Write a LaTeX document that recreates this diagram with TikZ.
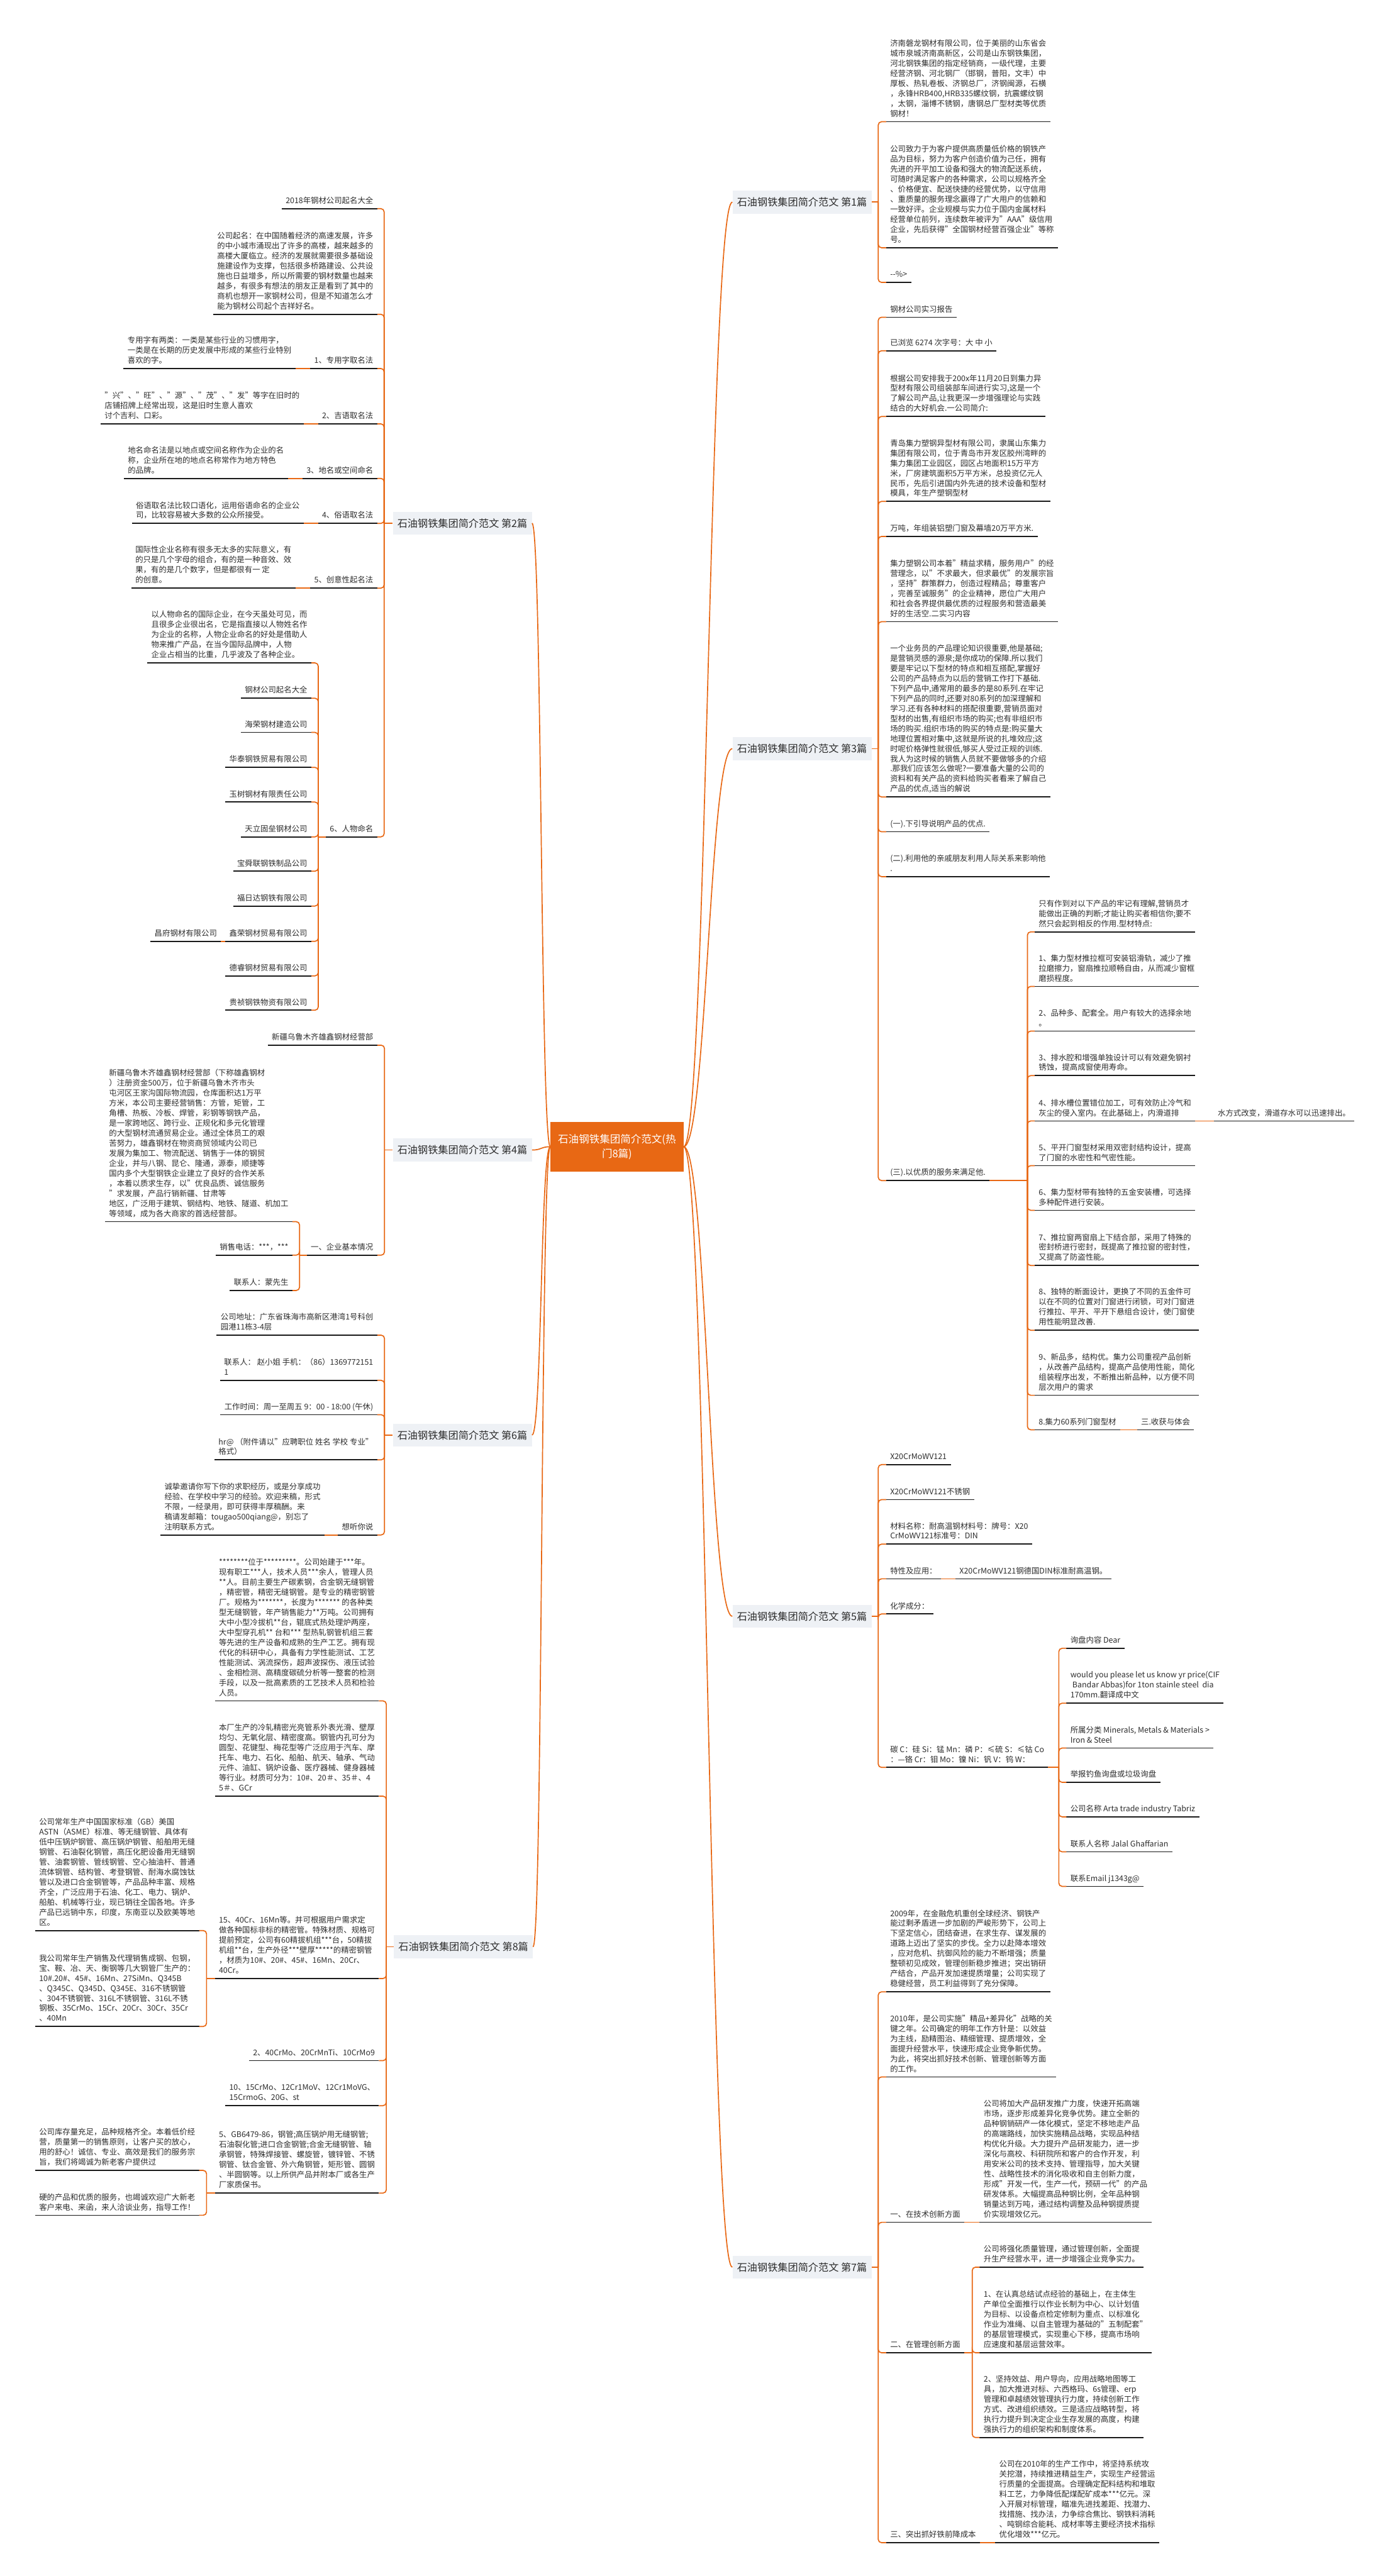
\documentclass[tikz,border=0pt]{standalone}
\usepackage{fontspec}
\setmainfont{Noto Sans CJK SC}
\usetikzlibrary{calc}
\definecolor{org}{RGB}{232,104,20}
\definecolor{brfill}{RGB}{238,241,245}
\definecolor{txc}{RGB}{45,45,45}
\definecolor{ulc}{RGB}{25,25,25}
\newcommand\ftx{\fontsize{13.5pt}{17.4pt}\selectfont}
\newcommand\fbr{\fontsize{17.6pt}{21pt}\selectfont}
\newcommand\fct{\fontsize{18pt}{25pt}\selectfont}
\tikzset{
 tx/.style={font=\ftx, text=txc, align=left, inner xsep=2.4mm, inner ysep=0pt, text depth=3.1mm},
 tr/.style={tx, anchor=south west},
 tl/.style={tx, anchor=south east},
 brbox/.style={fill=brfill, text=txc, font=\fbr, inner xsep=2.8mm, inner ysep=0pt, minimum height=14mm},
 brr/.style={brbox, anchor=east},
 brl/.style={brbox, anchor=west},
 ctrbox/.style={fill=org, text=white, font=\fct, align=center, minimum width=81mm, minimum height=30mm, inner sep=0pt},
 cn/.style={draw=org, line width=0.65mm},
 cnr/.style={cn, rounded corners=2mm},
 ul/.style={draw=ulc, line width=0.65mm},
}
\begin{document}
\begin{tikzpicture}[x=1mm,y=-1mm]
\useasboundingbox[fill=white] (0,0) rectangle (850,1568);

% ---------------- centre and branches
\node[ctrbox] (ctr) at (375.5,698) {石油钢铁集团简介范文(热\\门8篇)};
\node[brr] (B1) at (530.5,123) {石油钢铁集团简介范文 第1篇};
\node[brr] (B3) at (530.5,455.7) {石油钢铁集团简介范文 第3篇};
\node[brr] (B5) at (530.5,983.8) {石油钢铁集团简介范文 第5篇};
\node[brr] (B7) at (530.5,1380) {石油钢铁集团简介范文 第7篇};
\node[brl] (B2) at (239,318.5) {石油钢铁集团简介范文 第2篇};
\node[brl] (B4) at (239,700) {石油钢铁集团简介范文 第4篇};
\node[brl] (B6) at (239,873.5) {石油钢铁集团简介范文 第6篇};
\node[brl] (B8) at (239.6,1185) {石油钢铁集团简介范文 第8篇};

% ---------------- branch 1
\node[tr] (c1a) at (539.3,74.1) {济南磐龙钢材有限公司，位于美丽的山东省会\\城市泉城济南高新区，公司是山东钢铁集团，\\河北钢铁集团的指定经销商，一级代理，主要\\经营济钢、河北钢厂（邯钢，普阳，文丰）中\\厚板、热轧卷板、济钢总厂，济钢闽源，石横\\，永锋HRB400,HRB335螺纹钢，抗震螺纹钢\\，太钢，淄博不锈钢，唐钢总厂型材类等优质\\钢材！};
\node[tr] (c1b) at (539.3,150.8) {公司致力于为客户提供高质量低价格的钢铁产\\品为目标，努力为客户创造价值为己任，拥有\\先进的开平加工设备和强大的物流配送系统，\\可随时满足客户的各种需求，公司以规格齐全\\、价格便宜、配送快捷的经营优势，以守信用\\、重质量的服务理念赢得了广大用户的信赖和\\一致好评。企业规模与实力位于国内金属材料\\经营单位前列，连续数年被评为"AAA"级信用\\企业，先后获得"全国钢材经营百强企业"等称\\号。};
\node[tr] (c1c) at (539.3,171.9) {-{}-\%>};

% ---------------- branch 3
\node[tr] (c3a) at (539.3,193.1) {钢材公司实习报告};
\node[tr] (c3b) at (539.3,213.5) {已浏览 6274 次字号：大 中 小};
\node[tr] (c3c) at (539.3,253.5) {根据公司安排我于200x年11月20日到集力异\\型材有限公司组装部车间进行实习,这是一个\\了解公司产品,让我更深一步增强理论与实践\\结合的大好机会.一公司简介:};
\node[tr] (c3d) at (539.3,305.2) {青岛集力塑钢异型材有限公司，隶属山东集力\\集团有限公司，位于青岛市开发区胶州湾畔的\\集力集团工业园区，园区占地面积15万平方\\米，厂房建筑面积5万平方米，总投资亿元人\\民币，先后引进国内外先进的技术设备和型材\\模具，年生产塑钢型材};
\node[tr] (c3e) at (539.3,326.5) {万吨，年组装铝塑门窗及幕墙20万平方米.};
\node[tr] (c3f) at (539.3,378.4) {集力塑钢公司本着"精益求精，服务用户"的经\\营理念，以"不求最大，但求最优"的发展宗旨\\，坚持"群策群力，创造过程精品；尊重客户\\，完善至诚服务"的企业精神，愿位广大用户\\和社会各界提供最优质的过程服务和营造最美\\好的生活空.二实习内容};
\node[tr] (c3g) at (539.3,485.1) {一个业务员的产品理论知识很重要,他是基础;\\是营销灵感的源泉;是你成功的保障.所以我们\\要是牢记以下型材的特点和相互搭配,掌握好\\公司的产品特点为以后的营销工作打下基础.\\下列产品中,通常用的最多的是80系列.在牢记\\下列产品的同时,还要对80系列的加深理解和\\学习.还有各种材料的搭配很重要,营销员面对\\型材的出售,有组织市场的购买;也有非组织市\\场的购买.组织市场的购买的特点是:购买量大\\地理位置相对集中,这就是所说的扎堆效应;这\\时呢价格弹性就很低,够买人受过正规的训练.\\我人为这时候的销售人员就不要做够多的介绍\\.那我们应该怎么做呢?一要准备大量的公司的\\资料和有关产品的资料给购买者看来了解自己\\产品的优点,适当的解说};
\node[tr] (c3h) at (539.3,506.3) {(一).下引导说明产品的优点.};
\node[tr] (c3i) at (539.3,533.6) {(二).利用他的亲戚朋友利用人际关系来影响他\\.};
\node[tr] (c3j) at (539.3,718.6) {(三).以优质的服务来满足他.};
\node[tr] (s0) at (629.7,567.2) {只有作到对以下产品的牢记有理解,营销员才\\能做出正确的判断;才能让购买者相信你;要不\\然只会起到相反的作用.型材特点:};
\node[tr] (s1) at (629.7,600.4) {1、集力型材推拉框可安装铝滑轨，减少了推\\拉磨擦力，窗扇推拉顺畅自由，从而减少窗框\\磨损程度。};
\node[tr] (s2) at (629.7,627.6) {2、品种多、配套全。用户有较大的选择余地\\。};
\node[tr] (s3) at (629.7,654.7) {3、排水腔和增强单独设计可以有效避免钢衬\\锈蚀，提高成窗使用寿命。};
\node[tr] (s4) at (629.7,682.3) {4、排水槽位置错位加工，可有效防止冷气和\\灰尘的侵入室内。在此基础上，内滑道排};
\node[tr] (s4c) at (738.7,682.3) {水方式改变，滑道存水可以迅速排出。};
\node[tr] (s5) at (629.7,709.5) {5、平开门窗型材采用双密封结构设计，提高\\了门窗的水密性和气密性能。};
\node[tr] (s6) at (629.7,736.7) {6、集力型材带有独特的五金安装槽，可选择\\多种配件进行安装。};
\node[tr] (s7) at (629.7,770.3) {7、推拉窗两窗扇上下结合部，采用了特殊的\\密封桥进行密封，既提高了推拉窗的密封性，\\又提高了防盗性能。};
\node[tr] (s8) at (629.7,809.7) {8、独特的断面设计，更换了不同的五金件可\\以在不同的位置对门窗进行闭锁，可对门窗进\\行推拉、平开、平开下悬组合设计，使门窗使\\用性能明显改善.};
\node[tr] (s9) at (629.7,849.3) {9、新品多，结构优。集力公司重视产品创新\\，从改善产品结构，提高产品使用性能，简化\\组装程序出发，不断推出新品种，以方便不同\\层次用户的需求};
\node[tr] (s10) at (629.7,870.3) {8.集力60系列门窗型材};
\node[tr] (s10c) at (692,870.3) {三.收获与体会};

% ---------------- branch 5
\node[tr] (c5a) at (539.3,891.5) {X20CrMoWV121};
\node[tr] (c5b) at (539.3,912.8) {X20CrMoWV121不锈钢};
\node[tr] (c5c) at (539.3,939.9) {材料名称：耐高温钢材料号：牌号：X20\\CrMoWV121标准号：DIN};
\node[tr] (c5d) at (539.3,961.0) {特性及应用：};
\node[tr] (c5d1) at (581.5,961.0) {X20CrMoWV121钢德国DIN标准耐高温钢。};
\node[tr] (c5e) at (539.3,982.4) {化学成分：};
\node[tr] (c5f) at (539.3,1075.8) {碳 C：硅 Si：锰 Mn：磷 P：≤硫 S：≤钴 Co\\：—铬 Cr：钼 Mo：镍 Ni：钒 V：钨 W：};
\node[tr] (f1) at (649,1003.3) {询盘内容 Dear};
\node[tr] (f2) at (649,1036.7) {would you please let us know yr price(CIF\\\hspace{0.25em}Bandar Abbas)for 1ton stainle steel\ \ dia\\170mm.翻译成中文};
\node[tr] (f3) at (649,1064.0) {所属分类 Minerals, Metals \& Materials >\\Iron \& Steel};
\node[tr] (f4) at (649,1084.9) {举报钓鱼询盘或垃圾询盘};
\node[tr] (f5) at (649,1105.9) {公司名称 Arta trade industry Tabriz};
\node[tr] (f6) at (649,1127.2) {联系人名称 Jalal Ghaffarian};
\node[tr] (f7) at (649,1148.2) {联系Email j1343g@};

% ---------------- branch 7
\node[tr] (c7a) at (539.3,1212.4) {2009年，在金融危机重创全球经济、钢铁产\\能过剩矛盾进一步加剧的严峻形势下，公司上\\下坚定信心，团结奋进，在求生存、谋发展的\\道路上迈出了坚实的步伐。全力以赴降本增效\\，应对危机、抗御风险的能力不断增强；质量\\整顿初见成效，管理创新稳步推进；突出销研\\产结合，产品开发加速提质增量；公司实现了\\稳健经营，员工利益得到了充分保障。};
\node[tr] (c7b) at (539.3,1264.2) {2010年，是公司实施"精品+差异化"战略的关\\键之年。公司确定的明年工作方针是：以效益\\为主线，励精图治、精细管理、提质增效，全\\面提升经营水平，快速形成企业竞争新优势。\\为此，将突出抓好技术创新、管理创新等方面\\的工作。};
\node[tr] (c7c) at (539.3,1352.7) {一、在技术创新方面};
\node[tr] (c7c1) at (596.2,1352.7) {公司将加大产品研发推广力度，快速开拓高端\\市场，逐步形成差异化竞争优势。建立全新的\\品种钢销研产一体化模式，坚定不移地走产品\\的高端路线，加快实施精品战略，实现品种结\\构优化升级。大力提升产品研发能力，进一步\\深化与高校、科研院所和客户的合作开发，利\\用安米公司的技术支持、管理指导，加大关键\\性、战略性技术的消化吸收和自主创新力度，\\形成"开发一代，生产一代，预研一代"的产品\\研发体系。大幅提高品种钢比例，全年品种钢\\销量达到万吨，通过结构调整及品种钢提质提\\价实现增效亿元。};
\node[tr] (c7d) at (539.3,1432.1) {二、在管理创新方面};
\node[tr] (d0) at (596.2,1380.0) {公司将强化质量管理，通过管理创新，全面提\\升生产经营水平，进一步增强企业竞争实力。};
\node[tr] (d1) at (596.2,1432.1) {1、在认真总结试点经验的基础上，在主体生\\产单位全面推行以作业长制为中心、以计划值\\为目标、以设备点检定修制为重点、以标准化\\作业为准绳、以自主管理为基础的"五制配套"\\的基层管理模式，实现重心下移，提高市场响\\应速度和基层运营效率。};
\node[tr] (d2) at (596.2,1483.7) {2、坚持效益、用户导向，应用战略地图等工\\具，加大推进对标、六西格玛、6s管理、erp\\管理和卓越绩效管理执行力度，持续创新工作\\方式、改进组织绩效。三是适应战略转型，将\\执行力提升到决定企业生存发展的高度，构建\\强执行力的组织架构和制度体系。};
\node[tr] (c7e) at (539.3,1547.7) {三、突出抓好铁前降成本};
\node[tr] (c7e1) at (605.7,1547.7) {公司在2010年的生产工作中，将坚持系统攻\\关挖潜，持续推进精益生产，实现生产经营运\\行质量的全面提高。合理确定配料结构和堆取\\料工艺，力争降低配煤配矿成本***亿元。深\\入开展对标管理，瞄准先进找差距、找潜力、\\找措施、找办法，力争综合焦比、钢铁料消耗\\、吨钢综合能耗、成材率等主要经济技术指标\\优化增效***亿元。};

% ---------------- branch 2
\node[tl] (c2a) at (229.6,127.0) {2018年钢材公司起名大全};
\node[tl] (c2b) at (229.6,191.3) {公司起名：在中国随着经济的高速发展，许多\\的中小城市涌现出了许多的高楼，越来越多的\\高楼大厦临立。经济的发展就需要很多基础设\\施建设作为支撑，包括很多桥路建设、公共设\\施也日益增多，所以所需要的钢材数量也越来\\越多，有很多有想法的朋友正是看到了其中的\\商机也想开一家钢材公司，但是不知道怎么才\\能为钢材公司起个吉祥好名。};
\node[tl] (c2c) at (229.6,224.3) {1、专用字取名法};
\node[tl] (c2c1) at (179.8,224.3) {专用字有两类：一类是某些行业的习惯用字，\\一类是在长期的历史发展中形成的某些行业特别\\喜欢的字。};
\node[tl] (c2d) at (229.6,258.0) {2、吉语取名法};
\node[tl] (c2d1) at (184.8,258.0) {"兴"、"旺"、"源"、"茂"、"发"等字在旧时的\\店铺招牌上经常出现，这是旧时生意人喜欢\\讨个吉利、口彩。};
\node[tl] (c2e) at (229.6,291.2) {3、地名或空间命名};
\node[tl] (c2e1) at (175.2,291.2) {地名命名法是以地点或空间名称作为企业的名\\称，企业所在地的地点名称常作为地方特色\\的品牌。};
\node[tl] (c2f) at (229.6,318.6) {4、俗语取名法};
\node[tl] (c2f1) at (184.8,318.6) {俗语取名法比较口语化，运用俗语命名的企业公\\司，比较容易被大多数的公众所接受。};
\node[tl] (c2g) at (229.6,358.0) {5、创意性起名法};
\node[tl] (c2g1) at (179.8,358.0) {国际性企业名称有很多无太多的实际意义，有\\的只是几个字母的组合，有的是一种音效、效\\果，有的是几个数字，但是都很有一 定\\的创意。};
\node[tl] (c2h) at (229.6,509.4) {6、人物命名};
\node[tl] (h1) at (189.5,403.5) {以人物命名的国际企业，在今天虽处可见，而\\且很多企业很出名，它是指直接以人物姓名作\\为企业的名称，人物企业命名的好处是借助人\\物来推广产品，在当今国际品牌中，人物\\企业占相当的比重，几乎波及了各种企业。};
\node[tl] (h2) at (189.5,425.0) {钢材公司起名大全};
\node[tl] (h3) at (189.5,445.8) {海荣钢材建造公司};
\node[tl] (h4) at (189.5,467.1) {华泰钢铁贸易有限公司};
\node[tl] (h5) at (189.5,488.2) {玉树钢材有限责任公司};
\node[tl] (h6) at (189.5,509.4) {天立固垒钢材公司};
\node[tl] (h7) at (189.5,530.3) {宝舜联钢铁制品公司};
\node[tl] (h8) at (189.5,551.5) {福日达钢铁有限公司};
\node[tl] (h9) at (189.5,573.0) {鑫荣钢材贸易有限公司};
\node[tl] (h9c) at (134.5,573.0) {昌府钢材有限公司};
\node[tl] (h10) at (189.5,594.0) {德睿钢材贸易有限公司};
\node[tl] (h11) at (189.5,614.9) {贵祯钢铁物资有限公司};

% ---------------- branch 4
\node[tl] (c4a) at (229.6,636.2) {新疆乌鲁木齐雄鑫钢材经营部};
\node[tl] (c4b) at (229.6,764.0) {一、企业基本情况};
\node[tl] (k1) at (178,743.6) {新疆乌鲁木齐雄鑫钢材经营部（下称雄鑫钢材\\）注册资金500万，位于新疆乌鲁木齐市头\\屯河区王家沟国际物流园，仓库面积达1万平\\方米，本公司主要经营销售：方管，矩管，工\\角槽、热板、冷板、焊管，彩钢等钢铁产品，\\是一家跨地区、跨行业、正规化和多元化管理\\的大型钢材流通贸易企业。通过全体员工的艰\\苦努力，雄鑫钢材在物资商贸领域内公司已\\发展为集加工、物流配送、销售于一体的钢贸\\企业，并与八钢、昆仑、隆通，源泰，顺捷等\\国内多个大型钢铁企业建立了良好的合作关系\\，本着以质求生存，以"优良品质、诚信服务\\"求发展，产品行销新疆、甘肃等\\地区，广泛用于建筑、钢结构、地铁、隧道、机加工\\等领域，成为各大商家的首选经营部。};
\node[tl] (k2) at (178,764.0) {销售电话：***，***};
\node[tl] (k3) at (178,785.5) {联系人：蒙先生};

% ---------------- branch 6
\node[tl] (c6a) at (229.6,812.7) {公司地址：广东省珠海市高新区港湾1号科创\\园港11栋3-4层};
\node[tl] (c6b) at (229.6,840.2) {联系人： 赵小姐 手机：（86）1369772151\\1};
\node[tl] (c6c) at (229.6,861.1) {工作时间：周一至周五 9：00 - 18:00 (午休)};
\node[tl] (c6d) at (229.6,888.6) {hr@ （附件请以"应聘职位 姓名 学校 专业"\\格式）};
\node[tl] (c6e) at (229.6,934.3) {想听你说};
\node[tl] (c6e1) at (197.5,934.3) {诚挚邀请你写下你的求职经历，或是分享成功\\经验、在学校中学习的经验。欢迎来稿，形式\\不限，一经录用，即可获得丰厚稿酬。来\\稿请发邮箱：tougao500qiang@，别忘了\\注明联系方式。};

% ---------------- branch 8
\node[tl] (c8a) at (230.6,1035.3) {********位于*********。公司始建于***年。\\现有职工***人，技术人员***余人，管理人员\\{}**人。目前主要生产碳素钢，合金钢无缝钢管\\，精密管，精密无缝钢管。是专业的精密钢管\\厂。规格为*******，长度为******* 的各种类\\型无缝钢管，年产销售能力**万吨。公司拥有\\大中小型冷拔机**台，辊底式热处理炉两座，\\大中型穿孔机** 台和*** 型热轧钢管机组三套\\等先进的生产设备和成熟的生产工艺。拥有现\\代化的科研中心，具备有力学性能测试、工艺\\性能测试、涡流探伤，超声波探伤、液压试验\\、金相检测、高精度碳硫分析等一整套的检测\\手段，以及一批高素质的工艺技术人员和检验\\人员。};
\node[tl] (c8b) at (230.6,1093.3) {本厂生产的冷轧精密光亮管系外表光滑、壁厚\\均匀、无氧化层、精密度高。钢管内孔可分为\\圆型、花键型、梅花型等广泛应用于汽车、摩\\托车、电力、石化、船舶、航天、轴承、气动\\元件、油缸、锅炉设备、医疗器械、健身器械\\等行业。材质可分为：10\#、20＃、35＃、4\\5＃、GCr};
\node[tl] (c8c) at (230.6,1204.3) {15、40Cr、16Mn等。并可根据用户需求定\\做各种国标非标的精密管。特殊材质、规格可\\提前预定，公司有60精拔机组***台，50精拔\\机组**台，生产外径***壁厚*****的精密钢管\\，材质为10\#、20\#、45\#、16Mn、20Cr、\\40Cr。};
\node[tl] (e1) at (121.2,1175.1) {公司常年生产中国国家标准（GB）美国\\ASTN（ASME）标准、等无缝钢管、具体有\\低中压锅炉钢管、高压锅炉钢管、船舶用无缝\\钢管、石油裂化钢管，高压化肥设备用无缝钢\\管、油套钢管、管线钢管、空心抽油杆、普通\\流体钢管、结构管、考登钢管、耐海水腐蚀钛\\管以及进口合金钢管等，产品品种丰富、规格\\齐全，广泛应用于石油、化工、电力、锅炉、\\船舶、机械等行业，现已销往全国各地。许多\\产品已远销中东，印度，东南亚以及欧美等地\\区。};
\node[tl] (e2) at (121.2,1233.5) {我公司常年生产销售及代理销售成钢、包钢，\\宝、鞍、冶、天、衡钢等几大钢管厂生产的：\\10\#.20\#、45\#、16Mn、27SiMn、Q345B\\、Q345C、Q345D、Q345E、316不锈钢管\\、304不锈钢管、316L不锈钢管、316L不锈\\钢板、35CrMo、15Cr、20Cr、30Cr、35Cr\\、40Mn};
\node[tl] (c8d) at (230.6,1254.3) {2、40CrMo、20CrMnTi、10CrMo9};
\node[tl] (c8e) at (230.6,1281.7) {10、15CrMo、12Cr1MoV、12Cr1MoVG、\\15CrmoG、20G、st};
\node[tl] (c8f) at (230.6,1334.9) {5、GB6479-86，钢管;高压锅炉用无缝钢管;\\石油裂化管;进口合金钢管;合金无缝钢管、轴\\承钢管，特殊焊接管、螺旋管，镀锌管、不锈\\钢管、钛合金管、外六角钢管，矩形管、圆钢\\、半圆钢等。以上所供产品并附本厂或各生产\\厂家质保书。};
\node[tl] (g1) at (121.2,1321.1) {公司库存量充足，品种规格齐全。本着低价经\\营，质量第一的销售原则，让客户买的放心，\\用的舒心！诚信、专业、高效是我们的服务宗\\旨，我们将竭诚为新老客户提供过};
\node[tl] (g2) at (121.2,1348.4) {硬的产品和优质的服务，也竭诚欢迎广大新老\\客户来电、来函，来人洽谈业务，指导工作！};

% ---------------- underlines
\foreach \n in {c1a,c1b,c1c,c3a,c3b,c3c,c3d,c3e,c3f,c3g,c3h,c3i,c3j,s0,s1,s2,s3,s4,s4c,s5,s6,s7,s8,s9,s10,s10c,
  c5a,c5b,c5c,c5d,c5d1,c5e,c5f,f1,f2,f3,f4,f5,f6,f7,c7a,c7b,c7c,c7c1,c7d,d0,d1,d2,c7e,c7e1,
  c2a,c2b,c2c,c2c1,c2d,c2d1,c2e,c2e1,c2f,c2f1,c2g,c2g1,c2h,h1,h2,h3,h4,h5,h6,h7,h8,h9,h9c,h10,h11,
  c4a,c4b,k1,k2,k3,c6a,c6b,c6c,c6d,c6e,c6e1,c8a,c8b,c8c,e1,e2,c8d,c8e,c8f,g1,g2}
  \draw[ul] (\n.south west) -- (\n.south east);

% ---------------- connectors: centre to branches
\foreach \b in {B1,B3,B5,B7}
  \draw[cn] (ctr.east) .. controls +(14,0) and +(-14,0) .. (\b.west);
\foreach \b in {B2,B4,B6,B8}
  \draw[cn] (ctr.west) .. controls +(-6,0) and +(6,0) .. (\b.east);

% right side groups
\coordinate (v1) at ($(c1a.south west |- B1.east)+(-4.8,0)$);
\draw[cn] (B1.east) -- (v1);
\foreach \c in {c1a,c1b,c1c} \draw[cnr] (v1) |- (\c.south west);

\coordinate (v3) at ($(c3a.south west |- B3.east)+(-4.8,0)$);
\draw[cn] (B3.east) -- (v3);
\foreach \c in {c3a,c3b,c3c,c3d,c3e,c3f,c3g,c3h,c3i,c3j} \draw[cnr] (v3) |- (\c.south west);

\coordinate (vs) at ($(s0.south west |- c3j.south east)+(-4.4,0)$);
\draw[cn] (c3j.south east) -- (vs);
\foreach \c in {s0,s1,s2,s3,s4,s5,s6,s7,s8,s9,s10} \draw[cnr] (vs) |- (\c.south west);
\draw[cn] (s4.south east) -- (s4c.south west);
\draw[cn] (s10.south east) -- (s10c.south west);

\coordinate (v5) at ($(c5a.south west |- B5.east)+(-4.8,0)$);
\draw[cn] (B5.east) -- (v5);
\foreach \c in {c5a,c5b,c5c,c5d,c5e,c5f} \draw[cnr] (v5) |- (\c.south west);
\draw[cn] (c5d.south east) -- (c5d1.south west);
\coordinate (vf) at ($(f1.south west |- c5f.south east)+(-4.6,0)$);
\draw[cn] (c5f.south east) -- (vf);
\foreach \c in {f1,f2,f3,f4,f5,f6,f7} \draw[cnr] (vf) |- (\c.south west);

\coordinate (v7) at ($(c7a.south west |- B7.east)+(-4.8,0)$);
\draw[cn] (B7.east) -- (v7);
\foreach \c in {c7a,c7b,c7c,c7d,c7e} \draw[cnr] (v7) |- (\c.south west);
\draw[cn] (c7c.south east) -- (c7c1.south west);
\draw[cn] (c7e.south east) -- (c7e1.south west);
\coordinate (vd) at ($(d0.south west |- c7d.south east)+(-4.5,0)$);
\draw[cn] (c7d.south east) -- (vd);
\foreach \c in {d0,d1,d2} \draw[cnr] (vd) |- (\c.south west);

% left side groups
\coordinate (v2) at ($(c2a.south east |- B2.west)+(4.2,0)$);
\draw[cn] (B2.west) -- (v2);
\foreach \c in {c2a,c2b,c2c,c2d,c2e,c2f,c2g,c2h} \draw[cnr] (v2) |- (\c.south east);
\draw[cn] (c2c.south west) -- (c2c1.south east);
\draw[cn] (c2d.south west) -- (c2d1.south east);
\draw[cn] (c2e.south west) -- (c2e1.south east);
\draw[cn] (c2f.south west) -- (c2f1.south east);
\draw[cn] (c2g.south west) -- (c2g1.south east);
\coordinate (vh) at ($(h1.south east |- c2h.south west)+(4.2,0)$);
\draw[cn] (c2h.south west) -- (vh);
\foreach \c in {h1,h2,h3,h4,h5,h6,h7,h8,h9,h10,h11} \draw[cnr] (vh) |- (\c.south east);
\draw[cn] (h9.south west) -- (h9c.south east);

\coordinate (v4) at ($(c4a.south east |- B4.west)+(4.4,0)$);
\draw[cn] (B4.west) -- (v4);
\foreach \c in {c4a,c4b} \draw[cnr] (v4) |- (\c.south east);
\coordinate (vk) at ($(k1.south east |- c4b.south west)+(4.3,0)$);
\draw[cn] (c4b.south west) -- (vk);
\foreach \c in {k1,k2,k3} \draw[cnr] (vk) |- (\c.south east);

\coordinate (v6) at ($(c6a.south east |- B6.west)+(4.4,0)$);
\draw[cn] (B6.west) -- (v6);
\foreach \c in {c6a,c6b,c6c,c6d,c6e} \draw[cnr] (v6) |- (\c.south east);
\draw[cn] (c6e.south west) -- (c6e1.south east);

\coordinate (v8) at ($(c8a.south east |- B8.west)+(4.5,0)$);
\draw[cn] (B8.west) -- (v8);
\foreach \c in {c8a,c8b,c8c,c8d,c8e,c8f} \draw[cnr] (v8) |- (\c.south east);
\coordinate (ve) at ($(e1.south east |- c8c.south west)+(4.5,0)$);
\draw[cn] (c8c.south west) -- (ve);
\foreach \c in {e1,e2} \draw[cnr] (ve) |- (\c.south east);
\coordinate (vg) at ($(g1.south east |- c8f.south west)+(4.5,0)$);
\draw[cn] (c8f.south west) -- (vg);
\foreach \c in {g1,g2} \draw[cnr] (vg) |- (\c.south east);
\end{tikzpicture}
\end{document}
